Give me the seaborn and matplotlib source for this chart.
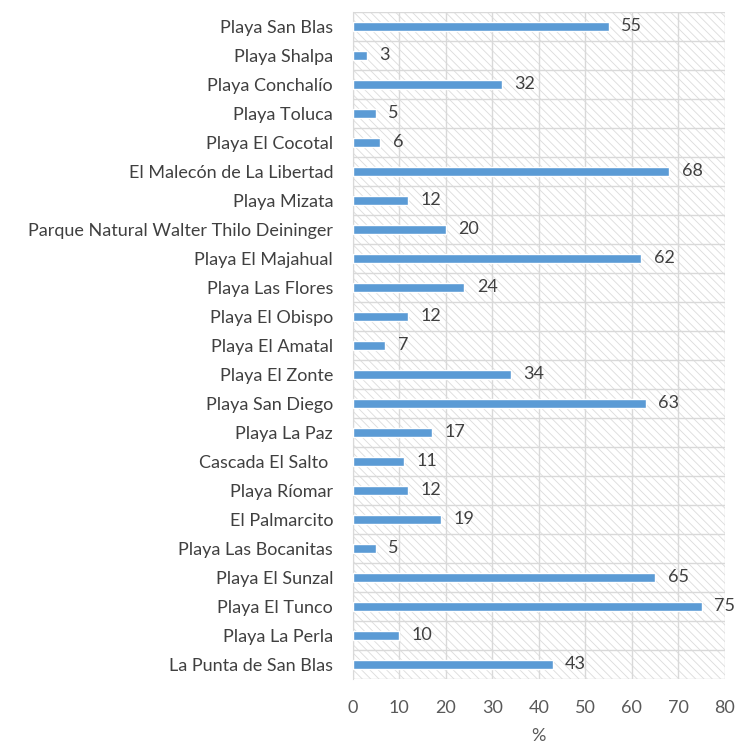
import seaborn as sns
import matplotlib.pyplot as plt
import pandas as pd
from matplotlib.patches import Rectangle

places = ['Playa San Blas', 'Playa Shalpa', 'Playa Conchalío', 'Playa Toluca',
          'Playa El Cocotal', 'El Malecón de La Libertad', 'Playa Mizata',
          'Parque Natural Walter Thilo Deininger', 'Playa El Majahual',
          'Playa Las Flores', 'Playa El Obispo', 'Playa El Amatal', 'Playa El Zonte',
          'Playa San Diego', 'Playa La Paz', 'Cascada El Salto ', 'Playa Ríomar',
          'El Palmarcito', 'Playa Las Bocanitas', 'Playa El Sunzal', 'Playa El Tunco',
          'Playa La Perla', 'La Punta de San Blas']
percent = [55, 3, 32, 5, 6, 68, 12, 20, 62, 24, 12, 7, 34, 63, 17, 11, 12, 19, 5,
           65, 75, 10, 43]

sns.set_style('white')
plt.rcParams['font.family'] = ['Lato', 'DejaVu Sans']
plt.rcParams['hatch.linewidth'] = 0.6
plt.rcParams['hatch.color'] = '#dcdcdc'

df = pd.DataFrame({'place': places, 'percent': percent})

fig = plt.figure(figsize=(7.36, 7.45), dpi=100)
ax = fig.add_axes([0.479, 0.089, 0.506, 0.895])

ax.add_patch(Rectangle((0, 0), 1, 1, transform=ax.transAxes, fill=False,
                       hatch='\\\\\\\\', edgecolor='#dcdcdc', lw=0, zorder=0))

sns.barplot(data=df, x='percent', y='place', orient='h', color='#5B9BD5',
            width=0.32, saturation=1, ax=ax, zorder=3)
ax.bar_label(ax.containers[0], padding=9, fontsize=13, color='#404040')

ax.set_xlim(0, 80)
ax.set_ylim(len(places) - 0.5, -0.5)
ax.set_xticks(range(0, 81, 10))
ax.set_yticks([i + 0.5 for i in range(-1, len(places))], minor=True)
ax.grid(axis='x', color='#d9d9d9', lw=1, zorder=1)
ax.grid(axis='y', which='minor', color='#d9d9d9', lw=1, zorder=1)
ax.set_axisbelow(True)
for s in ['top', 'right', 'bottom']:
    ax.spines[s].set_visible(False)
ax.spines['left'].set_color('#d9d9d9')
ax.tick_params(axis='y', which='major', length=0, labelsize=13, labelcolor='#404040', pad=14)
ax.tick_params(axis='y', which='minor', length=4, color='#d9d9d9')
ax.tick_params(axis='x', length=0, labelsize=13, labelcolor='#595959', pad=15)
ax.set_ylabel('')
ax.set_xlabel('%', fontsize=13, color='#595959', labelpad=9)

fig.savefig('out.png', dpi=100)
